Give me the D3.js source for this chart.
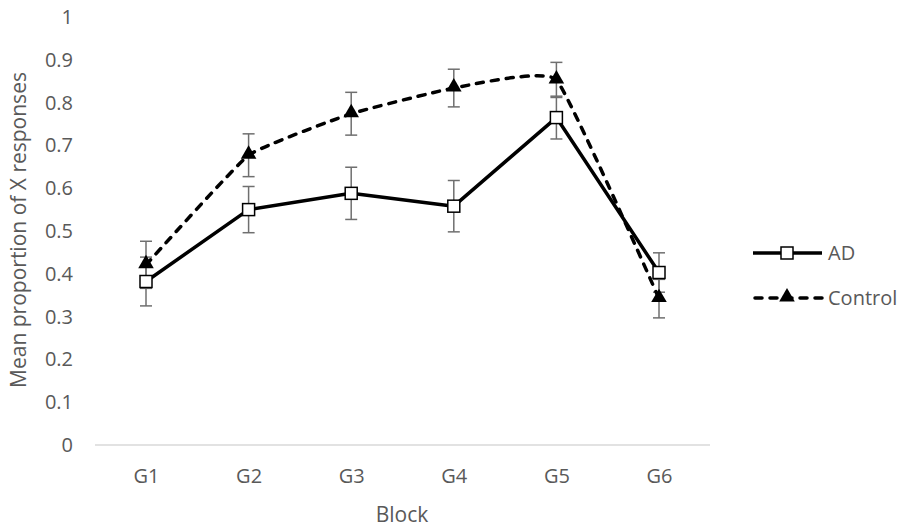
<!DOCTYPE html>
<html>
<head>
<meta charset="utf-8">
<script src="https://cdn.jsdelivr.net/npm/d3@7"></script>
<style>
  body { margin: 0; background: #fff; }
  svg { display: block; font-family: "Open Sans", sans-serif; }
</style>
</head>
<body>
<svg id="chart" width="903" height="529"></svg>
<script>
// Data
var blocks = ["G1", "G2", "G3", "G4", "G5", "G6"];
var adMean = [0.382, 0.550, 0.588, 0.558, 0.765, 0.403];
var adErr = [0.057, 0.054, 0.061, 0.060, 0.050, 0.046];
var controlMean = [0.421, 0.677, 0.774, 0.834, 0.853, 0.342];
var controlErr = [0.055, 0.050, 0.050, 0.044, 0.041, 0.045];
var yTicks = [0, 0.1, 0.2, 0.3, 0.4, 0.5, 0.6, 0.7, 0.8, 0.9, 1];

var svg = d3.select("#chart");
var textColor = "#595959";

// Scales
var x = d3.scalePoint().domain(blocks).range([146, 659]);
var y = d3.scaleLinear().domain([0, 1]).range([445, 17]);

// y tick labels (no gridlines, Excel style)
var yAxis = d3.axisLeft(y).tickValues(yTicks).tickSize(0).tickPadding(0)
    .tickFormat(function(d) { return d3.format("")(+d.toFixed(1)); });
var gy = svg.append("g").attr("transform", "translate(73,0)").call(yAxis);
gy.select(".domain").remove();
gy.selectAll("text").attr("fill", textColor).style("font-size", "20px")
    .style("font-family", "'Open Sans', sans-serif");

// x axis line + labels
svg.append("line").attr("x1", 95).attr("x2", 710).attr("y1", y(0)).attr("y2", y(0))
    .attr("stroke", "#d9d9d9").attr("stroke-width", 1.5);
var xAxis = d3.axisBottom(x).tickSize(0).tickPadding(0);
var gx = svg.append("g").attr("transform", "translate(0,483)").call(xAxis);
gx.select(".domain").remove();
gx.selectAll("text").attr("fill", textColor).attr("dy", 0).style("font-size", "20px")
    .style("font-family", "'Open Sans', sans-serif");

// axis titles
svg.append("text").attr("x", 402).attr("y", 522).attr("text-anchor", "middle")
    .attr("fill", textColor).style("font-size", "21px").text("Block");
svg.append("text").attr("transform", "translate(26,230) rotate(-90)").attr("text-anchor", "middle")
    .attr("fill", textColor).style("font-size", "21px").text("Mean proportion of X responses");

// error bars
function errorBars(means, errs) {
    var g = svg.append("g");
    blocks.forEach(function(b, i) {
        var cx = x(b), top = y(means[i] + errs[i]), bot = y(means[i] - errs[i]);
        g.append("line").attr("x1", cx).attr("x2", cx).attr("y1", top).attr("y2", bot);
        g.append("line").attr("x1", cx - 6).attr("x2", cx + 6).attr("y1", top).attr("y2", top);
        g.append("line").attr("x1", cx - 6).attr("x2", cx + 6).attr("y1", bot).attr("y2", bot);
    });
    g.selectAll("line").attr("stroke", "#6f6f6f").attr("stroke-width", 1.5);
}
errorBars(adMean, adErr);
errorBars(controlMean, controlErr);

// lines - control is smoothed in the original
var adLine = d3.line().x(function(d, i) { return x(blocks[i]); }).y(function(d) { return y(d); });
var ctrlLine = d3.line().x(function(d, i) { return x(blocks[i]); }).y(function(d) { return y(d); })
    .curve(d3.curveCardinal.tension(0.65));

svg.append("path").attr("d", ctrlLine(controlMean)).attr("fill", "none").attr("stroke", "#000")
    .attr("stroke-width", 3.5).attr("stroke-dasharray", "7,8").attr("stroke-linecap", "round");
svg.append("path").attr("d", adLine(adMean)).attr("fill", "none").attr("stroke", "#000")
    .attr("stroke-width", 3.5).attr("stroke-linejoin", "round");

// markers
var tri = d3.symbol().type(d3.symbolTriangle).size(105);
svg.append("g").selectAll("path").data(controlMean).enter().append("path")
    .attr("d", tri).attr("fill", "#000")
    .attr("transform", function(d, i) { return "translate(" + x(blocks[i]) + "," + (y(d) - 1) + ")"; });
svg.append("g").selectAll("rect").data(adMean).enter().append("rect")
    .attr("x", function(d, i) { return x(blocks[i]) - 6; }).attr("y", function(d) { return y(d) - 6; })
    .attr("width", 12).attr("height", 12).attr("fill", "#fff").attr("stroke", "#000").attr("stroke-width", 1.5);

// legend
var legend = svg.append("g");
legend.append("line").attr("x1", 753).attr("x2", 822).attr("y1", 253).attr("y2", 253)
    .attr("stroke", "#000").attr("stroke-width", 3.5);
legend.append("rect").attr("x", 781).attr("y", 247).attr("width", 12).attr("height", 12)
    .attr("fill", "#fff").attr("stroke", "#000").attr("stroke-width", 1.5);
legend.append("text").attr("x", 828).attr("y", 260).attr("fill", textColor).style("font-size", "20px").text("AD");
legend.append("line").attr("x1", 755).attr("x2", 822).attr("y1", 298).attr("y2", 298)
    .attr("stroke", "#000").attr("stroke-width", 3.5).attr("stroke-dasharray", "7,8").attr("stroke-linecap", "round");
legend.append("path").attr("d", tri).attr("fill", "#000").attr("transform", "translate(787,297)");
legend.append("text").attr("x", 828).attr("y", 305).attr("fill", textColor).style("font-size", "20px").text("Control");
</script>
</body>
</html>
